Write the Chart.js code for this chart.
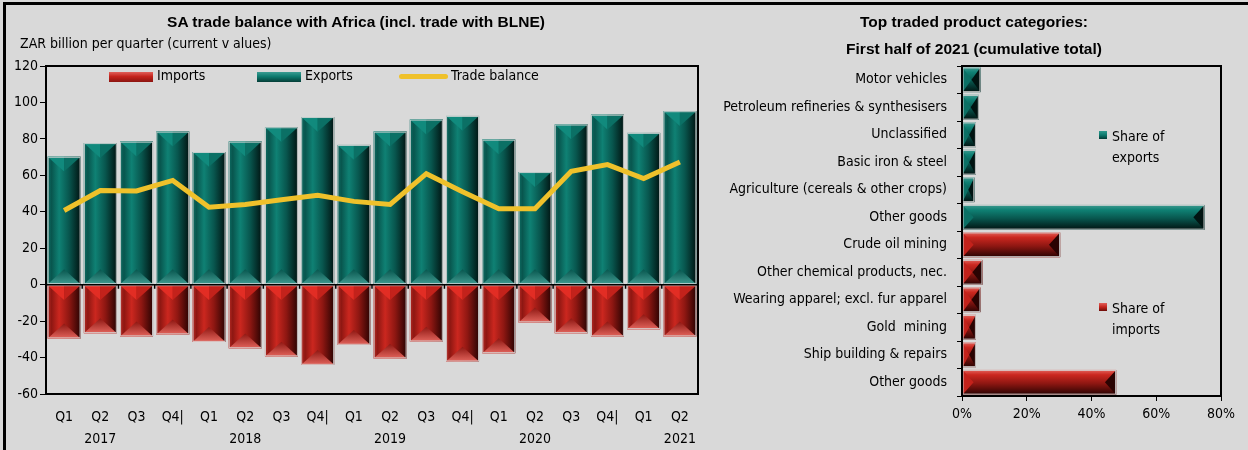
<!DOCTYPE html>
<html>
<head>
<meta charset="utf-8">
<script src="https://cdn.jsdelivr.net/npm/chart.js@4/dist/chart.umd.min.js"></script>
<style>
  body { margin: 0; background: #d9d9d9; width: 1248px; height: 450px; overflow: hidden; position: relative; }
  .abs { position: absolute; }
  .narrow { font-family: "Liberation Sans Narrow", "Arial Narrow", "DejaVu Sans Condensed", sans-serif; font-size: 14px; color: #000; }
  .title { font-family: "Liberation Sans", Arial, sans-serif; font-weight: bold; font-size: 15.5px; color: #000; white-space: nowrap; }
  canvas { position: absolute; top: 0; }
</style>
</head>
<body>
<div class="abs" style="left:3px;top:2px;width:1245px;height:3px;background:#000"></div>
<div class="abs" style="left:3px;top:2px;width:3px;height:448px;background:#000"></div>

<canvas id="tradeChart" width="712" height="450" style="left:0"></canvas>
<canvas id="productChart" width="548" height="450" style="left:700px"></canvas>

<div class="abs title" style="left:0;width:712px;top:13px;text-align:center">SA trade balance with Africa (incl. trade with BLNE)</div>
<div class="abs narrow" style="left:20px;top:35px">ZAR billion per quarter (current v alues)</div>

<!-- legend, left chart -->
<div class="abs" style="left:109px;top:72px;width:44px;height:10px;background:linear-gradient(#e0605a,#c4241d 45%,#8c1510)"></div>
<div class="abs narrow" style="left:157px;top:67px">Imports</div>
<div class="abs" style="left:257px;top:72px;width:44px;height:10px;background:linear-gradient(#3a9c92,#0d7a6e 45%,#053d37)"></div>
<div class="abs narrow" style="left:305px;top:67px">Exports</div>
<div class="abs" style="left:399px;top:74px;width:49px;height:5px;border-radius:3px;background:#efc12b"></div>
<div class="abs narrow" style="left:451px;top:67px">Trade balance</div>

<div class="abs title" style="left:700px;width:548px;top:13px;text-align:center">Top traded product categories:</div>
<div class="abs title" style="left:700px;width:548px;top:40px;text-align:center">First half of 2021 (cumulative total)</div>

<!-- legend, right chart -->
<div class="abs" style="left:1099px;top:131px;width:8px;height:8px;background:linear-gradient(#2e9a8e,#0c7a6e 50%,#033a35)"></div>
<div class="abs narrow" style="left:1112px;top:126px;line-height:21px">Share of<br>exports</div>
<div class="abs" style="left:1099px;top:303px;width:8px;height:8px;background:linear-gradient(#e0605a,#c4241d 50%,#6c0c08)"></div>
<div class="abs narrow" style="left:1112px;top:298px;line-height:21px">Share of<br>imports</div>

<script>
const NARROW = '"Liberation Sans Narrow", "Arial Narrow", "DejaVu Sans Condensed", sans-serif';

// left chart data (ZAR billion per quarter)
const quarterLabels = ['Q1', 'Q2', 'Q3', 'Q4|', 'Q1', 'Q2', 'Q3', 'Q4|', 'Q1', 'Q2', 'Q3', 'Q4|', 'Q1', 'Q2', 'Q3', 'Q4|', 'Q1', 'Q2'];
const yearLabels = ['', '2017', '', '', '', '2018', '', '', '', '2019', '', '', '', '2020', '', '', '', '2021'];
const exportsData = [70.2, 77.7, 78.5, 84.0, 72.8, 78.5, 86.4, 92.0, 76.7, 84.0, 90.6, 92.6, 79.6, 61.8, 87.9, 93.3, 83.3, 95.2];
const importsData = [-29.5, -26.6, -28.4, -27.3, -31.4, -34.9, -39.4, -44.0, -33.0, -40.5, -31.2, -42.2, -37.6, -20.7, -26.6, -28.4, -24.4, -28.4];
const balanceData = [40.7, 51.7, 51.4, 57.2, 42.5, 44.0, 46.6, 49.0, 45.7, 44.0, 60.9, 51.0, 41.7, 41.7, 62.2, 65.9, 58.2, 67.3];

// right chart data (% share, first half 2021)
const productLabels = ['Motor vehicles', 'Petroleum refineries & synthesisers', 'Unclassified', 'Basic iron & steel',
  'Agriculture (cereals & other crops)', 'Other goods', 'Crude oil mining', 'Other chemical products, nec.',
  'Wearing apparel; excl. fur apparel', 'Gold  mining', 'Ship building & repairs', 'Other goods'];
const exportShare = [5.7, 5.2, 4.3, 4.3, 3.8, 74.9, null, null, null, null, null, null];
const importShare = [null, null, null, null, null, null, 30.3, 6.3, 5.7, 4.3, 4.3, 47.6];

const teal = { edge: '#0d6b62', mid: '#08564e', light: '#0f8174', dark: '#011412', top: '#118a7d', top2: '#0b7065', bottom: '#3f9a90' };
const red = { edge: '#b52a24', mid: '#8e1712', light: '#cb271f', dark: '#2a0302', top: '#e22d24', top2: '#c3221b', bottom: '#e2645c' };

Chart.defaults.font.family = NARROW;
Chart.defaults.font.size = 14;
Chart.defaults.color = '#000';

function drawVertBar(ctx, el, p) {
  const { x, y, base, width } = el.getProps(['x', 'y', 'base', 'width'], true);
  const l = x - width / 2, r = x + width / 2, t = Math.min(y, base), b = Math.max(y, base), h = b - t;
  if (!(h > 0)) return;
  const g = ctx.createLinearGradient(l, 0, r, 0);
  g.addColorStop(0, p.edge); g.addColorStop(0.12, p.mid); g.addColorStop(0.35, p.light);
  g.addColorStop(0.65, p.mid); g.addColorStop(1, p.dark);
  ctx.fillStyle = g;
  ctx.fillRect(l, t, width, h);
  const d = Math.min(width * 0.45, h / 2);
  ctx.fillStyle = p.top;
  ctx.beginPath(); ctx.moveTo(l, t); ctx.lineTo(x, t); ctx.lineTo(x, t + d); ctx.closePath(); ctx.fill();
  ctx.fillStyle = p.top2;
  ctx.beginPath(); ctx.moveTo(x, t); ctx.lineTo(r, t); ctx.lineTo(x, t + d); ctx.closePath(); ctx.fill();
  const gb = ctx.createLinearGradient(0, b - d, 0, b);
  gb.addColorStop(0, p.mid); gb.addColorStop(1, p.bottom);
  ctx.fillStyle = gb;
  ctx.beginPath(); ctx.moveTo(l, b); ctx.lineTo(r, b); ctx.lineTo(x, b - d); ctx.closePath(); ctx.fill();
  ctx.strokeStyle = 'rgba(215,215,215,0.9)';
  ctx.lineWidth = 1;
  ctx.strokeRect(l + 0.5, t + 0.5, width - 1, h - 1);
}

function drawHorizBar(ctx, el, p) {
  const { x, y, base, height } = el.getProps(['x', 'y', 'base', 'height'], true);
  const l = Math.min(x, base), r = Math.max(x, base), t = y - height / 2, b = y + height / 2, w = r - l;
  if (!(w > 0)) return;
  const g = ctx.createLinearGradient(0, t, 0, b);
  g.addColorStop(0, p.bottom); g.addColorStop(0.2, p.light); g.addColorStop(0.55, p.mid); g.addColorStop(1, p.dark);
  ctx.fillStyle = g;
  ctx.fillRect(l, t, w, height);
  const d = Math.min(height * 0.45, w / 2);
  ctx.fillStyle = p.top2;
  ctx.beginPath(); ctx.moveTo(l, t); ctx.lineTo(l, b); ctx.lineTo(l + d, y); ctx.closePath(); ctx.fill();
  ctx.fillStyle = p.dark;
  ctx.beginPath(); ctx.moveTo(r, t); ctx.lineTo(r, b); ctx.lineTo(r - d, y); ctx.closePath(); ctx.fill();
  ctx.strokeStyle = 'rgba(215,215,215,0.9)';
  ctx.lineWidth = 1;
  ctx.strokeRect(l + 0.5, t + 0.5, w - 1, height - 1);
}

// paints the bevelled look over each bar the library placed
const bevel = {
  id: 'bevel',
  afterDatasetDraw(chart, args) {
    const ds = chart.data.datasets[args.index];
    if (!ds.bevel) return;
    const ctx = chart.ctx;
    const horiz = chart.options.indexAxis === 'y';
    ctx.save();
    args.meta.data.forEach((el, i) => {
      if (ds.data[i] == null) return;
      if (horiz) drawHorizBar(ctx, el, ds.bevel);
      else drawVertBar(ctx, el, ds.bevel);
    });
    ctx.restore();
  }
};

const frame = {
  id: 'frame',
  afterDatasetsDraw(chart) {
    const { ctx, chartArea: a } = chart;
    ctx.save();
    ctx.strokeStyle = '#000';
    ctx.lineWidth = 2;
    ctx.strokeRect(a.left, a.top, a.right - a.left, a.bottom - a.top);
    ctx.restore();
  }
};

const zeroLine = {
  id: 'zeroLine',
  afterDatasetsDraw(chart) {
    const { ctx, chartArea: a, scales: { x, y } } = chart;
    const y0 = y.getPixelForValue(0);
    ctx.save();
    ctx.strokeStyle = '#000';
    ctx.lineWidth = 1.5;
    ctx.beginPath();
    ctx.moveTo(a.left, y0); ctx.lineTo(a.right, y0);
    for (let i = 0; i < quarterLabels.length - 1; i++) {
      const xb = (x.getPixelForValue(i) + x.getPixelForValue(i + 1)) / 2;
      ctx.moveTo(xb, y0); ctx.lineTo(xb, y0 + 4);
    }
    ctx.stroke();
    ctx.restore();
  }
};

new Chart(document.getElementById('tradeChart'), {
  data: {
    labels: quarterLabels.map((q, i) => [q, yearLabels[i]]),
    datasets: [
      {
        type: 'line',
        label: 'Trade balance',
        data: balanceData,
        borderColor: '#efc12b',
        borderWidth: 5,
        pointRadius: 0,
        tension: 0,
        order: 0
      },
      {
        type: 'bar',
        label: 'Exports',
        data: exportsData,
        backgroundColor: '#0c7a6e',
        bevel: teal,
        grouped: false,
        barPercentage: 0.91,
        categoryPercentage: 1,
        order: 1
      },
      {
        type: 'bar',
        label: 'Imports',
        data: importsData,
        backgroundColor: '#c4241d',
        bevel: red,
        grouped: false,
        barPercentage: 0.91,
        categoryPercentage: 1,
        order: 1
      }
    ]
  },
  options: {
    responsive: false,
    animation: false,
    layout: { padding: { top: 66, right: 14, left: 0, bottom: 0 } },
    plugins: {
      legend: { display: false },
      tooltip: { enabled: false }
    },
    scales: {
      x: {
        grid: { display: false },
        border: { display: false },
        ticks: { autoSkip: false, maxRotation: 0, padding: 4, font: { size: 14, lineHeight: 1.6 } },
        afterFit(s) { s.height = 56; }
      },
      y: {
        min: -60,
        max: 120,
        ticks: { stepSize: 20, padding: 2 },
        grid: { drawOnChartArea: false, tickLength: 6, color: '#000' },
        border: { display: false },
        afterFit(s) { s.width = 46; }
      }
    }
  },
  plugins: [bevel, zeroLine, frame]
});

new Chart(document.getElementById('productChart'), {
  type: 'bar',
  data: {
    labels: productLabels,
    datasets: [
      {
        label: 'Share of exports',
        data: exportShare,
        backgroundColor: '#0c7a6e',
        bevel: teal,
        grouped: false,
        barPercentage: 0.9,
        categoryPercentage: 1
      },
      {
        label: 'Share of imports',
        data: importShare,
        backgroundColor: '#c4241d',
        bevel: red,
        grouped: false,
        barPercentage: 0.9,
        categoryPercentage: 1
      }
    ]
  },
  options: {
    indexAxis: 'y',
    responsive: false,
    animation: false,
    layout: { padding: { top: 66, right: 27, left: 0, bottom: 0 } },
    plugins: {
      legend: { display: false },
      tooltip: { enabled: false }
    },
    scales: {
      x: {
        min: 0,
        max: 80,
        ticks: { stepSize: 20, padding: 5, callback: v => v + '%' },
        grid: { drawOnChartArea: false, tickLength: 5, color: '#000' },
        border: { display: false },
        afterFit(s) { s.height = 54; }
      },
      y: {
        ticks: { padding: 10, autoSkip: false },
        grid: { offset: true, drawOnChartArea: false, tickLength: 5, color: '#000' },
        border: { display: false },
        afterFit(s) { s.width = 262; }
      }
    }
  },
  plugins: [bevel, frame]
});
</script>
</body>
</html>
